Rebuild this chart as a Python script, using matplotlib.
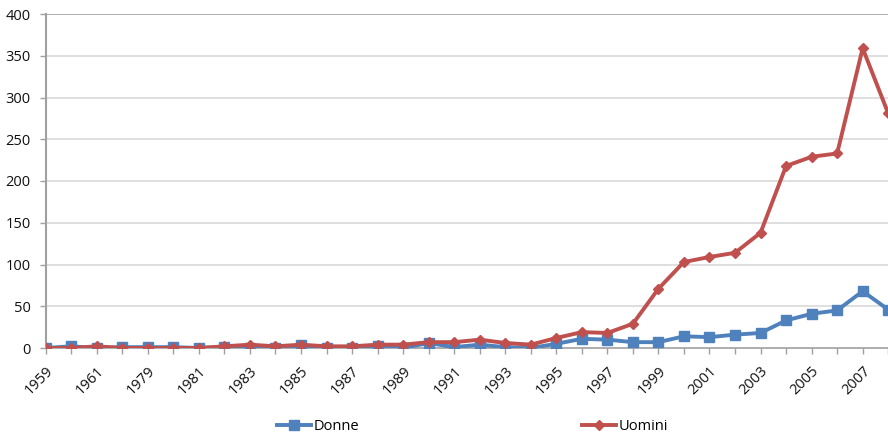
import matplotlib
matplotlib.use("Agg")
import matplotlib.pyplot as plt
from matplotlib.lines import Line2D

years = ["1959", "1960", "1961", "1978", "1979", "1980", "1981", "1982", "1983", "1984",
         "1985", "1986", "1987", "1988", "1989", "1990", "1991", "1992", "1993", "1994",
         "1995", "1996", "1997", "1998", "1999", "2000", "2001", "2002", "2003", "2004",
         "2005", "2006", "2007", "2008"]
donne = [0, 2, 0, 1, 1, 1, 0, 1, 0, 0,
         3, 0, 0, 2, 0, 6, 1, 4, 1, 0,
         5, 11, 10, 7, 7, 14, 13, 16, 18, 33,
         41, 45, 68, 46]
uomini = [0, 0, 2, 0, 0, 0, 0, 2, 4, 2,
          4, 2, 2, 4, 4, 7, 7, 10, 6, 4,
          12, 19, 18, 29, 71, 103, 109, 114, 138, 218,
          229, 233, 359, 281]
yticks = [0, 50, 100, 150, 200, 250, 300, 350, 400]

plt.rcParams['font.family'] = ['Open Sans', 'DejaVu Sans']

W, H = 888, 441
fig = plt.figure(figsize=(W / 100, H / 100), dpi=100)
left, right, top, bottom = 45.7, 888.2, 14, 348
ax = fig.add_axes([left / W, 1 - bottom / H, (right - left) / W, (bottom - top) / H])

x = list(range(len(years)))
blue = "#4F81BD"
red = "#C0504D"
ax.plot(x, donne, color=blue, lw=2.8, marker="s", ms=7.5, mec=blue, mfc=blue,
        solid_joinstyle="round", clip_on=True, zorder=3)
ax.plot(x, uomini, color=red, lw=2.8, marker="D", ms=5.5, mec=red, mfc=red,
        solid_joinstyle="round", clip_on=True, zorder=4)

fs = 10.5
ax.set_xlim(0, len(years) - 1)
ax.set_ylim(0, 400)
ax.set_yticks(yticks)
ax.set_yticklabels([str(v) for v in yticks], fontsize=fs, color="#111111")
for v in yticks[1:-1]:
    ax.axhline(v, color="#D9D9D9", lw=1.2, zorder=0)
ax.axhline(400, color="#A0A0A0", lw=1.2, zorder=0)

ax.set_xticks(x)
ax.set_xticklabels([y if i % 2 == 0 else "" for i, y in enumerate(years)],
                   rotation=45, ha="right", rotation_mode="anchor", fontsize=fs,
                   color="#111111")
ax.tick_params(axis="x", length=4, width=1, color="#A0A0A0", pad=7)
ax.tick_params(axis="y", length=4, width=1, color="#A0A0A0", pad=7)

for s in ["top", "right"]:
    ax.spines[s].set_visible(False)
ax.spines["left"].set_color("#A0A0A0")
ax.spines["bottom"].set_color("#A0A0A0")
ax.spines["left"].set_linewidth(1.5)
ax.spines["bottom"].set_linewidth(1.2)

h1 = Line2D([], [], color=blue, lw=2.8, marker="s", ms=7.5)
h2 = Line2D([], [], color=red, lw=2.8, marker="D", ms=5.5)
fig.legend([h1], ["Donne"], loc="center left", bbox_to_anchor=(277 / W, 1 - 427 / H),
           frameon=False, fontsize=fs, handlelength=2.3, handletextpad=0.2,
           borderpad=0, borderaxespad=0)
fig.legend([h2], ["Uomini"], loc="center left", bbox_to_anchor=(582 / W, 1 - 427 / H),
           frameon=False, fontsize=fs, handlelength=2.3, handletextpad=0.2,
           borderpad=0, borderaxespad=0)

fig.savefig("out.png", dpi=100)
